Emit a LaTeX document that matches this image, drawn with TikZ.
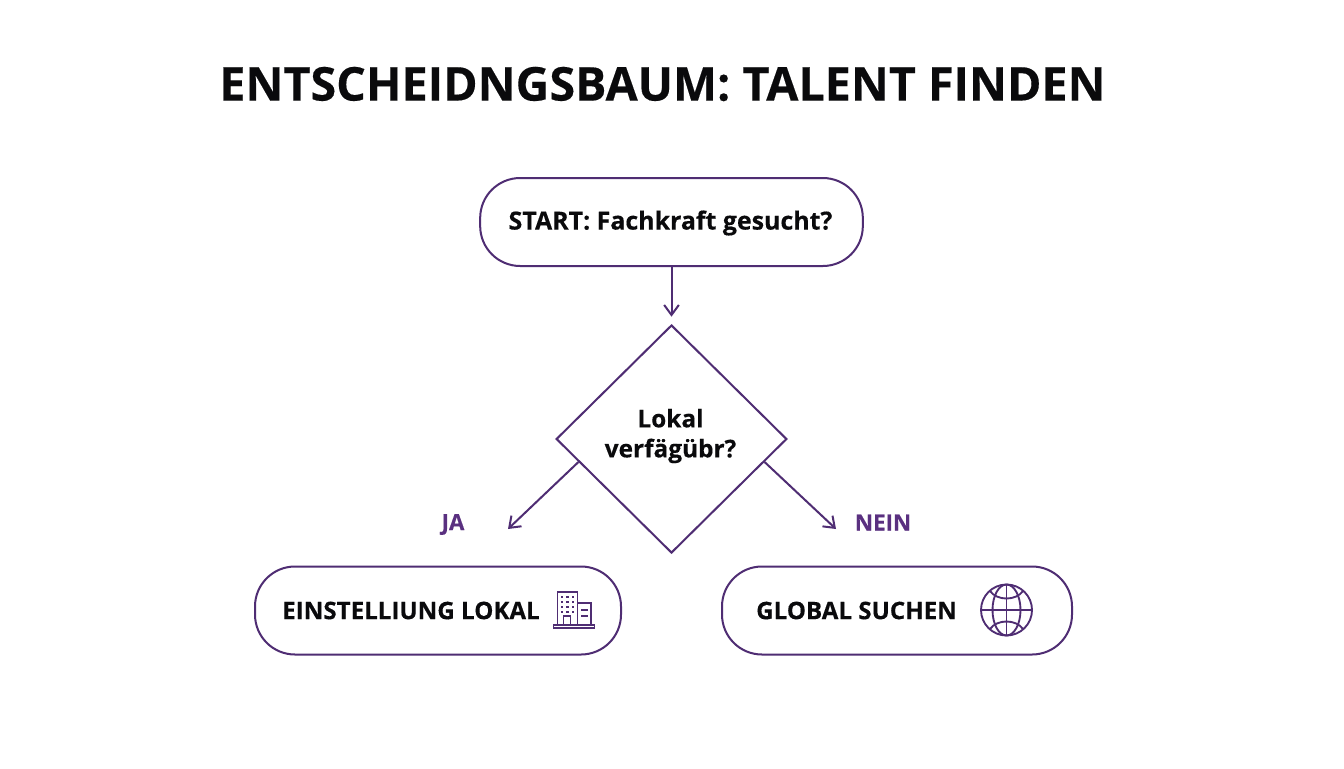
\documentclass[tikz,border=0pt]{standalone}
\usepackage{fontspec}
\setmainfont{Open Sans}[BoldFeatures={FakeBold=0.25}]
\usetikzlibrary{shapes.geometric,arrows.meta,calc}
\definecolor{plum}{HTML}{4F2D73}
\definecolor{plumtext}{HTML}{5A3080}
\definecolor{ink}{HTML}{0A0A0C}
\tikzset{
  pill/.style={draw=plum,line width=1.5pt,fill=white,rounded corners=30pt,minimum height=66pt,inner sep=0pt},
  decision/.style={shape=diamond,draw=plum,line width=1.5pt,fill=white,minimum width=173pt,minimum height=171pt,inner sep=0pt},
  dectext/.style={align=center,text=ink,inner sep=0pt,font=\bfseries\fontsize{18.3}{22.5}\selectfont},
  pilltext/.style={text=ink,font=\bfseries\fontsize{18.1}{21}\selectfont,inner sep=0pt},
  starttext/.style={text=ink,font=\bfseries\fontsize{18.7}{21}\selectfont,inner sep=0pt},
  branch/.style={text=plumtext,font=\bfseries\fontsize{16.8}{19}\selectfont,inner sep=0pt},
  flow/.style={draw=plum,line width=1.5pt,-{Straight Barb[length=7.5pt,width=11pt,line width=1.5pt]}},
  icon/.style={draw=plum,line width=1.4pt},
  iconthin/.style={draw=plum,line width=1.1pt}
}
\begin{document}
\begin{tikzpicture}[x=0.75pt,y=-0.75pt]
\useasboundingbox (0,0) rectangle (1344,768);
\fill[white] (0,0) rectangle (1344,768);
\node[text=ink,font=\bfseries\fontsize{35}{40}\selectfont,inner sep=0pt] (title) at (662.5,84) {ENTSCHEIDNGSBAUM: TALENT FINDEN};
\node[pill,minimum width=287pt] (start) at (671.5,222) {};
\node[starttext] (startt) at (670.5,223) {START: Fachkraft gesucht?};
\node[decision] (dec) at (671.5,439) {};
\node[dectext] (dect) at (670.5,436) {Lokal\\verfägübr?};
\node[pill,minimum width=274.5pt] (lokal) at (438,610.5) {};
\node[pill,minimum width=262.5pt] (global) at (897,610.5) {};
\node[pilltext] (lokalt) at (411,610.5) {EINSTELLIUNG LOKAL};
\node[pilltext] (globalt) at (856.5,610.5) {GLOBAL SUCHEN};
\node[branch] (ja) at (453,524.5) {JA};
\node[branch] (nein) at (883,522.5) {NEIN};
\coordinate (jaend) at (508,529);
\coordinate (neinend) at (836,529);
\draw[flow,shorten >=5.5pt] (start.south) -- (dec.north);
\draw[flow] ($(dec.west)!0.2!(dec.south)$) -- (jaend);
\draw[flow] ($(dec.east)!0.2!(dec.south)$) -- (neinend);
% building icon
\draw[icon] (557.5,625) -- (557.5,592) -- (577.5,592) -- (577.5,625);
\draw[icon] (577.5,603) -- (591,603) -- (591,625);
\draw[icon] (553.5,625) rectangle (594.5,628);
\draw[icon] (563.5,625) -- (563.5,616) -- (570.5,616) -- (570.5,625);
\draw[iconthin] (581,610) -- (587.5,610) (581,616) -- (587.5,616);
\foreach \yy in {597,602,607,612}
  \foreach \xx in {562,567.5,573}
    \fill[plum] (\xx-1.2,\yy-1.2) rectangle (\xx+1.2,\yy+1.2);
% globe icon
\draw[icon] (1006.5,610) circle[radius=25.5];
\draw[icon] (1006.5,610) ellipse[x radius=14,y radius=25.5];
\draw[icon] (1006.5,584.5) -- (1006.5,635.5);
\draw[icon] (981,610) -- (1032,610);
\draw[icon] (990,591) .. controls (997,601) and (1016,601) .. (1023,591);
\draw[icon] (990,629) .. controls (997,619) and (1016,619) .. (1023,629);
\end{tikzpicture}
\end{document}
